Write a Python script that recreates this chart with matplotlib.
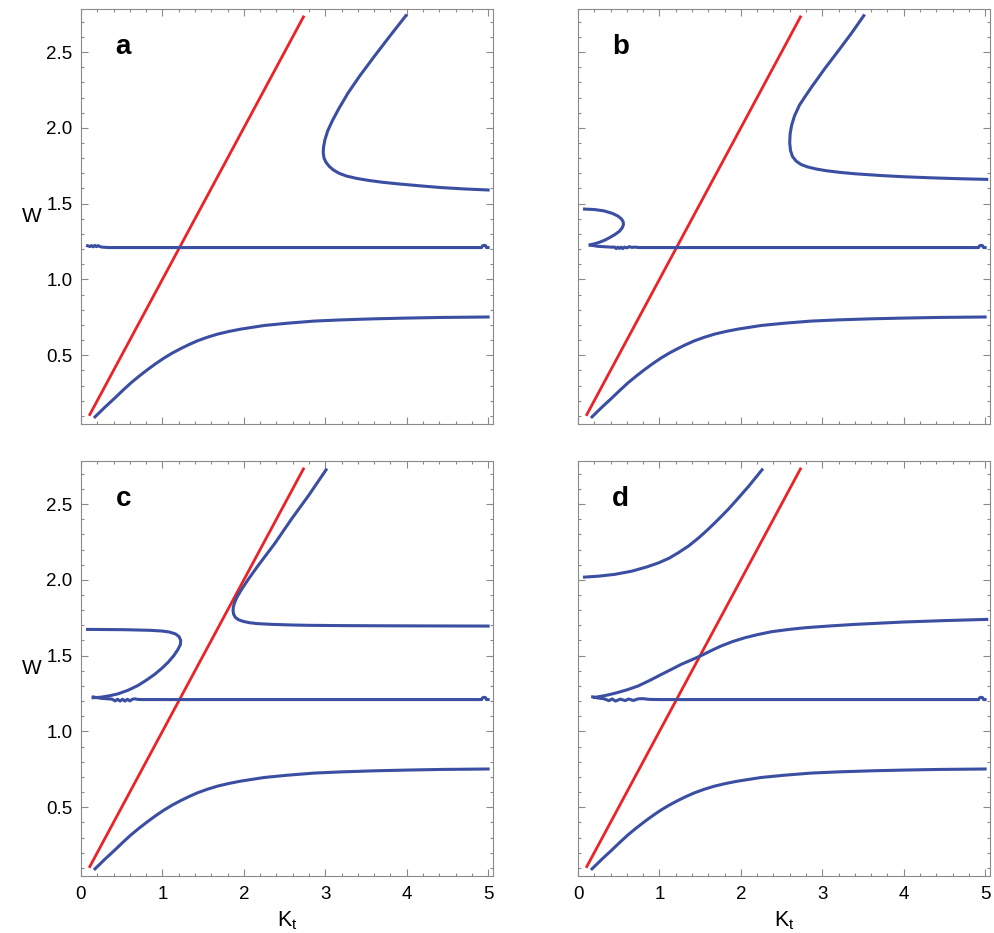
import matplotlib
matplotlib.use("Agg")
import matplotlib.pyplot as plt

plt.rcParams['font.family'] = ['Liberation Sans', 'DejaVu Sans']
plt.rcParams['mathtext.fontset'] = 'custom'
plt.rcParams['mathtext.rm'] = 'Liberation Sans'

# 红线 W = K
red_k = [0.1, 2.74]
red_w = [0.1, 2.74]

# 下方曲线（四幅图相同）
low_k = [0.172, 0.30, 0.409, 0.51, 0.613, 0.715, 0.818, 0.92, 1.022, 1.125, 1.227, 1.33, 1.431, 1.55,
         1.677, 1.82, 1.963, 2.25, 2.536, 2.863, 3.2, 3.605, 4.014, 4.423, 5.0]
low_w = [0.093, 0.160, 0.214, 0.266, 0.317, 0.362, 0.405, 0.445, 0.482, 0.515, 0.544, 0.571, 0.595, 0.618,
         0.639, 0.657, 0.672, 0.696, 0.711, 0.725, 0.733, 0.740, 0.745, 0.749, 0.752]

# 水平线 W≈1.21（带数值抖动）
ha_k = [0.08, 0.11, 0.13, 0.15, 0.17, 0.19, 0.21, 0.23, 0.25, 0.28, 0.35, 4.92, 4.93, 4.95, 4.97, 4.98, 5.0]
ha_w = [1.222, 1.217, 1.223, 1.215, 1.224, 1.216, 1.223, 1.217, 1.214, 1.212, 1.21, 1.21, 1.221, 1.225, 1.222, 1.21, 1.21]

hb_k = [0.15, 0.25, 0.40, 0.45, 0.47, 0.49, 0.51, 0.53, 0.55, 0.57, 0.60, 0.63, 0.66, 0.70, 0.75, 4.92, 4.93, 4.95, 4.97, 4.98, 5.0]
hb_w = [1.226, 1.218, 1.213, 1.213, 1.203, 1.213, 1.204, 1.213, 1.203, 1.213, 1.208, 1.216, 1.211, 1.213, 1.21, 1.21, 1.221, 1.225, 1.222, 1.21, 1.21]

hc_k = [0.15, 0.25, 0.38, 0.42, 0.45, 0.48, 0.51, 0.54, 0.57, 0.60, 0.63, 0.66, 0.70, 0.75, 4.92, 4.93, 4.95, 4.97, 4.98, 5.0]
hc_w = [1.227, 1.218, 1.213, 1.201, 1.212, 1.200, 1.212, 1.200, 1.212, 1.201, 1.212, 1.215, 1.211, 1.21, 1.21, 1.221, 1.225, 1.222, 1.21, 1.21]

hd_k = [0.18, 0.25, 0.32, 0.38, 0.42, 0.46, 0.52, 0.58, 0.62, 0.68, 0.74, 0.80, 0.86, 0.90, 1.0, 4.92, 4.93, 4.95, 4.97, 4.98, 5.0]
hd_w = [1.228, 1.220, 1.215, 1.203, 1.214, 1.200, 1.213, 1.203, 1.214, 1.204, 1.215, 1.216, 1.212, 1.211, 1.21, 1.21, 1.221, 1.225, 1.222, 1.21, 1.21]

# 上方分支
ua_k = [3.99, 3.80, 3.60, 3.42, 3.28, 3.17, 3.09, 3.03, 2.995, 2.978, 2.975, 2.985, 3.01, 3.05, 3.10, 3.17,
        3.26, 3.38, 3.52, 3.70, 3.90, 4.15, 4.42, 4.70, 5.0]
ua_w = [2.74, 2.61, 2.47, 2.34, 2.23, 2.13, 2.05, 1.98, 1.92, 1.87, 1.835, 1.80, 1.772, 1.745, 1.722, 1.70,
        1.682, 1.667, 1.654, 1.641, 1.630, 1.618, 1.606, 1.597, 1.59]

ub_k = [3.51, 3.36, 3.20, 3.03, 2.87, 2.80, 2.72, 2.66, 2.625, 2.605, 2.60, 2.61, 2.635, 2.68, 2.74, 2.82,
        2.93, 3.05, 3.22, 3.40, 3.70, 4.01, 4.40, 4.70, 5.02]
ub_w = [2.74, 2.625, 2.51, 2.39, 2.27, 2.215, 2.15, 2.08, 2.02, 1.96, 1.90, 1.85, 1.81, 1.78, 1.758, 1.742,
        1.728, 1.717, 1.706, 1.697, 1.686, 1.677, 1.669, 1.664, 1.66]

uc_k = [3.01, 2.80, 2.58, 2.38, 2.17, 2.05, 1.97, 1.915, 1.885, 1.87, 1.868, 1.875, 1.895, 1.93, 1.99, 2.07,
        2.17, 2.35, 2.60, 2.79, 3.20, 3.60, 4.20, 5.0]
uc_w = [2.726, 2.56, 2.397, 2.24, 2.09, 2.00, 1.935, 1.885, 1.848, 1.82, 1.795, 1.772, 1.753, 1.738, 1.726, 1.717,
        1.711, 1.706, 1.702, 1.700, 1.698, 1.697, 1.696, 1.695]

# 图 b、c 中的小回路
lb_k = [0.08, 0.20, 0.32, 0.42, 0.49, 0.535, 0.555, 0.558, 0.545, 0.51, 0.456, 0.39, 0.333, 0.27, 0.21, 0.15]
lb_w = [1.464, 1.461, 1.452, 1.436, 1.418, 1.398, 1.38, 1.362, 1.342, 1.318, 1.297, 1.276, 1.26, 1.246, 1.236, 1.228]

lc_k = [0.08, 0.54, 0.85, 1.00, 1.09, 1.16, 1.205, 1.225, 1.22, 1.19, 1.14, 1.07, 0.99, 0.906, 0.80, 0.70,
        0.58, 0.456, 0.35, 0.25, 0.15]
lc_w = [1.673, 1.671, 1.667, 1.662, 1.655, 1.643, 1.625, 1.60, 1.572, 1.54, 1.50, 1.456, 1.415, 1.377, 1.337, 1.303,
        1.272, 1.248, 1.235, 1.226, 1.222]

# 图 d 的两条分支
td_k = [0.08, 0.25, 0.45, 0.66, 0.85, 0.99, 1.12, 1.23, 1.36, 1.48, 1.60, 1.72, 1.85, 1.97, 2.10, 2.26]
td_w = [2.018, 2.024, 2.036, 2.057, 2.086, 2.112, 2.143, 2.178, 2.224, 2.276, 2.334, 2.397, 2.468, 2.54, 2.62, 2.726]

md_k = [0.20, 0.33, 0.456, 0.60, 0.74, 0.88, 1.028, 1.15, 1.27, 1.40, 1.52, 1.64, 1.76, 1.90, 2.05, 2.20,
        2.38, 2.58, 2.79, 3.1, 3.4, 3.7, 4.01, 4.5, 5.02]
md_w = [1.224, 1.236, 1.252, 1.274, 1.30, 1.336, 1.377, 1.41, 1.443, 1.473, 1.502, 1.534, 1.564, 1.593, 1.618, 1.638,
        1.658, 1.672, 1.684, 1.696, 1.706, 1.714, 1.722, 1.731, 1.739]

blue = '#3A4EA2'
red = '#EC2227'
frame = '#8a8a8a'

fig = plt.figure(figsize=(9.95, 9.33), dpi=100)
w, h = 412 / 995, 415 / 933
pos = {'a': (81 / 995, 509 / 933), 'b': (578 / 995, 509 / 933),
       'c': (81 / 995, 57 / 933), 'd': (578 / 995, 57 / 933)}

panels = {
    'a': [(ha_k, ha_w), (ua_k, ua_w)],
    'b': [(hb_k, hb_w), (ub_k, ub_w), (lb_k, lb_w)],
    'c': [(hc_k, hc_w), (uc_k, uc_w), (lc_k, lc_w)],
    'd': [(hd_k, hd_w), (td_k, td_w), (md_k, md_w)],
}

for name in ['a', 'b', 'c', 'd']:
    x0, y0 = pos[name]
    ax = fig.add_axes([x0, y0, w, h])
    ax.plot(red_k, red_w, color=red, lw=2.0, solid_capstyle='butt')
    ax.plot(low_k, low_w, color=blue, lw=2.2, solid_joinstyle='round')
    for k, v in panels[name]:
        ax.plot(k, v, color=blue, lw=2.2, solid_joinstyle='round')
    ax.text(0.52, 2.53, name, fontsize=20, fontweight='bold', ha='center', va='center')

    ax.set_xlim(0, 5.06)
    ax.set_ylim(0.046, 2.784)
    ax.set_xticks([0, 1, 2, 3, 4, 5])
    ax.set_xticks([i * 0.2 for i in range(26)], minor=True)
    ax.set_yticks([0.5, 1.0, 1.5, 2.0, 2.5])
    ax.set_yticks([i * 0.1 for i in range(1, 28)], minor=True)
    ax.tick_params(which='both', direction='in', top=True, right=True,
                   color=frame, labelsize=13.5, width=0.8)
    ax.tick_params(which='major', length=5)
    ax.tick_params(which='minor', length=2.5)
    ax.tick_params(axis='x', pad=7)
    ax.tick_params(axis='y', pad=6)
    for s in ax.spines.values():
        s.set_color(frame)
        s.set_linewidth(0.8)

    if name in ('a', 'c'):
        ax.set_yticklabels(['0.5', '1.0', '1.5', '2.0', '2.5'])
        ax.set_ylabel('W', rotation=0, fontsize=15, va='center', ha='center')
        ax.yaxis.set_label_coords(-0.12, 0.5)
    else:
        ax.set_yticklabels([])
    if name in ('c', 'd'):
        ax.set_xlabel(r'$\mathregular{K_t}$', fontsize=15.5, labelpad=5)
    else:
        ax.set_xticklabels([])

fig.savefig('out.png', dpi=100)
